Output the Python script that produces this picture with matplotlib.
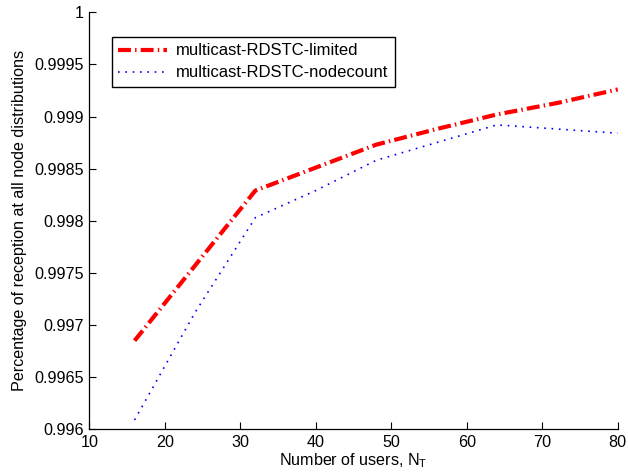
import matplotlib
matplotlib.use("Agg")
import matplotlib.pyplot as plt

plt.rcParams['font.family'] = ['Liberation Sans', 'DejaVu Sans']

users = [16, 24, 32, 40, 48, 56, 64, 72, 80]
limited = [0.99685, 0.99757, 0.99829, 0.99851, 0.99873, 0.99888, 0.99902, 0.99913, 0.99926]
nodecount = [0.99609, 0.99712, 0.99803, 0.99829, 0.99858, 0.99875, 0.99892, 0.99888, 0.99884]
labels = ["multicast-RDSTC-limited", "multicast-RDSTC-nodecount"]
xticks = [10, 20, 30, 40, 50, 60, 70, 80]
yticks = [0.996, 0.9965, 0.997, 0.9975, 0.998, 0.9985, 0.999, 0.9995, 1.0]
yticklabels = ["0.996", "0.9965", "0.997", "0.9975", "0.998", "0.9985", "0.999", "0.9995", "1"]

fs = 11.6
fig = plt.figure(figsize=(6.28, 4.76), dpi=100)
ax = fig.add_axes([0.1422, 0.0981, 0.8414, 0.8761])

ax.plot(users, limited, color=(1, 0, 0), lw=3,
        linestyle=(0, (3.1, 1.0, 0.35, 1.0)), label=labels[0])
ax.plot(users, nodecount, color=(0, 0, 1), lw=1.2,
        linestyle=(0, (1.0, 3.4)), label=labels[1])

ax.set_xlim(10, 80)
ax.set_ylim(0.996, 1.0)
ax.set_xticks(xticks)
ax.set_xticklabels([str(v) for v in xticks], fontsize=fs)
ax.set_yticks(yticks)
ax.set_yticklabels(yticklabels, fontsize=fs)
ax.tick_params(direction='in', length=5, width=0.8, pad=4)
ax.spines['top'].set_visible(False)
ax.spines['right'].set_visible(False)
for s in ('left', 'bottom'):
    ax.spines[s].set_linewidth(0.9)

ax.set_xlabel(r"Number of users, N$_\mathregular{T}$", fontsize=fs, labelpad=1)
ax.set_ylabel("Percentage of reception at all node distributions", fontsize=fs, labelpad=5)

leg = ax.legend(loc='upper left', bbox_to_anchor=(0.1779, 0.9229),
                bbox_transform=fig.transFigure, fontsize=12.0,
                fancybox=False, shadow=False, framealpha=1,
                edgecolor='black', handlelength=2.9, handletextpad=0.55,
                labelspacing=0.42, borderpad=0.4, borderaxespad=0)
leg.get_frame().set_linewidth(1.0)

fig.savefig("out.png", dpi=100)
